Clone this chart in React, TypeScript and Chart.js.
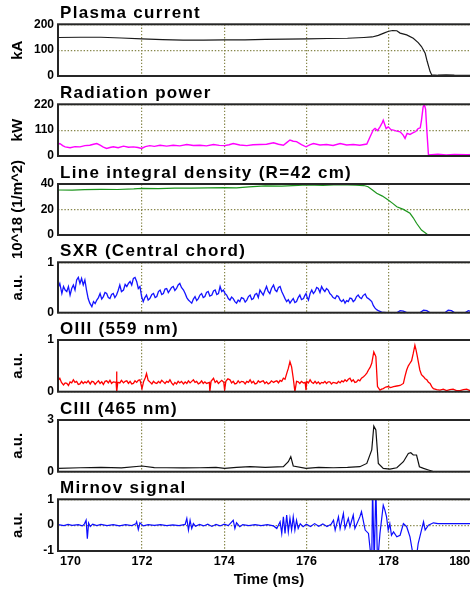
import React, { useEffect, useRef } from 'react';
import { Chart, registerables } from 'chart.js';

Chart.register(...registerables);
Chart.defaults.font.family = "'Liberation Sans', Arial, sans-serif";

type Pt = [number, number];

// ---- shared time axis (ms) ----
const TIME_MIN = 169.956;
const TIME_MAX = 180.224;
const timeTicks = [170, 172, 174, 176, 178, 180];

// ---- signals: [time (ms), value] ----
const plasmaCurrent: Pt[] = [
  [169.96, 149], [170.5, 150], [171.0, 150], [171.5, 147], [172.0, 144], [172.5, 141], [173.0, 139],
  [173.5, 139], [174.0, 140], [174.5, 140], [175.0, 142], [175.5, 143], [176.0, 144], [176.5, 145],
  [177.0, 146], [177.4, 149], [177.6, 151], [177.75, 157], [177.9, 167], [178.0, 173], [178.1, 176],
  [178.2, 175], [178.28, 166], [178.44, 159], [178.6, 146], [178.72, 129], [178.8, 114], [178.89, 88],
  [178.94, 56], [179.01, 17], [179.05, 4], [179.2, 3], [179.4, 4], [179.6, 3], [180.3, 2],
];

const radiationPower: Pt[] = [
  [169.96, 50], [170.0, 53], [170.07, 44], [170.13, 39], [170.25, 35], [170.37, 40], [170.49, 39],
  [170.61, 44], [170.73, 46], [170.82, 50], [170.9, 53], [170.98, 46], [171.06, 38], [171.14, 32],
  [171.22, 36], [171.3, 39], [171.42, 35], [171.55, 42], [171.67, 37], [171.79, 39], [171.9, 36],
  [171.99, 32], [172.08, 40], [172.19, 44], [172.3, 41], [172.44, 46], [172.6, 42], [172.76, 46],
  [172.92, 43], [173.09, 49], [173.25, 45], [173.41, 46], [173.57, 43], [173.74, 49], [173.88, 45],
  [174.01, 44], [174.12, 48], [174.22, 53], [174.38, 47], [174.55, 44], [174.7, 48], [174.87, 49],
  [175.03, 50], [175.2, 56], [175.32, 50], [175.44, 46], [175.52, 57], [175.6, 68], [175.68, 63],
  [175.76, 61], [175.88, 48], [175.99, 39], [176.08, 47], [176.17, 53], [176.33, 47], [176.49, 49],
  [176.65, 45], [176.82, 53], [176.98, 47], [177.14, 49], [177.3, 46], [177.47, 51], [177.55, 82],
  [177.63, 112], [177.67, 117], [177.73, 108], [177.79, 124], [177.84, 140], [177.87, 152],
  [177.94, 117], [177.99, 124], [178.06, 112], [178.12, 110], [178.2, 106], [178.28, 103],
  [178.35, 90], [178.4, 75], [178.45, 96], [178.52, 92], [178.6, 99], [178.66, 104], [178.72, 117],
  [178.77, 120], [178.8, 152], [178.84, 209], [178.87, 218], [178.9, 200], [178.93, 110],
  [178.97, 4], [179.2, 8], [179.4, 5], [179.6, 7], [179.9, 6], [180.3, 7],
];

const lineDensity: Pt[] = [
  [169.96, 35.3], [170.3, 35.2], [170.6, 35.6], [171.0, 35.8], [171.4, 35.7], [171.8, 36.2],
  [172.0, 36.6], [172.4, 36.4], [172.8, 36.8], [173.2, 36.7], [173.6, 37.0], [174.0, 37.1],
  [174.3, 36.9], [174.6, 37.8], [175.0, 38.6], [175.4, 38.4], [175.8, 38.9], [176.0, 39.2],
  [176.4, 39.0], [176.8, 39.4], [177.2, 39.1], [177.4, 38.8], [177.5, 37.9], [177.6, 35.5],
  [177.71, 32.7], [177.85, 30.5], [177.99, 27.5], [178.1, 24.8], [178.2, 22.2], [178.36, 20.1],
  [178.52, 17.0], [178.6, 13.5], [178.68, 9.2], [178.8, 3.9], [178.93, 0.8], [178.97, 0],
];

const sxrCentral: Pt[] = [
  [169.96, 0.5], [170.0, 0.58], [170.05, 0.38], [170.09, 0.52], [170.13, 0.45], [170.17, 0.42],
  [170.21, 0.52], [170.25, 0.35], [170.29, 0.48], [170.33, 0.55], [170.37, 0.45], [170.41, 0.65],
  [170.45, 0.7], [170.49, 0.58], [170.53, 0.68], [170.57, 0.55], [170.61, 0.65], [170.65, 0.45],
  [170.69, 0.28], [170.73, 0.19], [170.78, 0.12], [170.82, 0.22], [170.86, 0.18], [170.9, 0.25],
  [170.94, 0.3], [170.98, 0.38], [171.02, 0.27], [171.06, 0.32], [171.1, 0.4], [171.14, 0.38],
  [171.18, 0.3], [171.22, 0.28], [171.26, 0.36], [171.3, 0.38], [171.34, 0.3], [171.38, 0.35],
  [171.42, 0.44], [171.46, 0.55], [171.5, 0.42], [171.55, 0.45], [171.59, 0.56], [171.63, 0.52],
  [171.67, 0.58], [171.71, 0.62], [171.75, 0.55], [171.79, 0.68], [171.83, 0.7], [171.87, 0.62],
  [171.91, 0.48], [171.95, 0.52], [171.99, 0.32], [172.03, 0.22], [172.07, 0.3], [172.11, 0.35],
  [172.15, 0.25], [172.19, 0.28], [172.24, 0.36], [172.28, 0.38], [172.32, 0.3], [172.36, 0.32],
  [172.4, 0.42], [172.44, 0.45], [172.48, 0.36], [172.52, 0.38], [172.56, 0.47], [172.6, 0.48],
  [172.64, 0.4], [172.68, 0.45], [172.72, 0.5], [172.76, 0.52], [172.8, 0.44], [172.84, 0.48],
  [172.88, 0.55], [172.92, 0.58], [172.96, 0.5], [173.01, 0.45], [173.05, 0.38], [173.09, 0.3],
  [173.13, 0.25], [173.17, 0.22], [173.21, 0.19], [173.25, 0.27], [173.29, 0.32], [173.33, 0.24],
  [173.37, 0.28], [173.41, 0.35], [173.45, 0.38], [173.49, 0.3], [173.53, 0.32], [173.57, 0.4],
  [173.61, 0.42], [173.65, 0.33], [173.7, 0.35], [173.74, 0.43], [173.78, 0.45], [173.82, 0.36],
  [173.86, 0.38], [173.9, 0.52], [173.94, 0.42], [173.98, 0.45], [174.02, 0.38], [174.06, 0.35],
  [174.1, 0.28], [174.14, 0.25], [174.18, 0.31], [174.22, 0.28], [174.26, 0.22], [174.3, 0.19],
  [174.34, 0.25], [174.38, 0.22], [174.42, 0.3], [174.47, 0.28], [174.51, 0.21], [174.55, 0.25],
  [174.59, 0.32], [174.63, 0.35], [174.67, 0.26], [174.71, 0.28], [174.75, 0.36], [174.79, 0.38],
  [174.83, 0.3], [174.87, 0.45], [174.91, 0.4], [174.95, 0.35], [174.99, 0.44], [175.03, 0.52],
  [175.07, 0.42], [175.11, 0.38], [175.15, 0.48], [175.2, 0.55], [175.24, 0.45], [175.28, 0.42],
  [175.32, 0.5], [175.36, 0.52], [175.4, 0.42], [175.44, 0.35], [175.48, 0.28], [175.52, 0.22],
  [175.56, 0.26], [175.6, 0.19], [175.64, 0.24], [175.68, 0.28], [175.72, 0.2], [175.76, 0.22],
  [175.8, 0.3], [175.84, 0.35], [175.88, 0.26], [175.93, 0.28], [175.96, 0.34], [175.99, 0.38],
  [176.02, 0.3], [176.05, 0.25], [176.09, 0.38], [176.13, 0.45], [176.17, 0.38], [176.21, 0.42],
  [176.25, 0.5], [176.29, 0.48], [176.33, 0.4], [176.37, 0.52], [176.41, 0.46], [176.45, 0.42],
  [176.49, 0.48], [176.53, 0.45], [176.57, 0.38], [176.61, 0.35], [176.65, 0.3], [176.7, 0.28],
  [176.74, 0.34], [176.78, 0.32], [176.82, 0.25], [176.86, 0.22], [176.9, 0.26], [176.94, 0.19],
  [176.98, 0.24], [177.02, 0.22], [177.06, 0.29], [177.1, 0.28], [177.14, 0.22], [177.18, 0.25],
  [177.22, 0.32], [177.26, 0.35], [177.3, 0.3], [177.34, 0.28], [177.38, 0.34], [177.43, 0.37],
  [177.47, 0.3], [177.51, 0.28], [177.55, 0.25], [177.59, 0.22], [177.63, 0.14], [177.67, 0.09],
  [177.71, 0.06], [177.75, 0.04], [177.83, 0.01], [177.95, 0], [178.2, 0], [178.28, 0.04],
  [178.36, 0.03], [178.44, 0], [178.76, 0], [178.85, 0.05], [178.93, 0.04], [179.01, 0],
  [179.37, 0], [179.45, 0.05], [179.53, 0.04], [179.61, 0], [179.86, 0], [179.94, 0.04],
  [180.02, 0.02], [180.14, 0], [180.3, 0],
];

const oiiiLine: Pt[] = [
  [169.96, 0.22], [170.0, 0.26], [170.04, 0.18], [170.09, 0.13], [170.13, 0.17], [170.17, 0.16],
  [170.21, 0.12], [170.25, 0.19], [170.29, 0.17], [170.33, 0.23], [170.37, 0.18], [170.41, 0.2],
  [170.45, 0.14], [170.49, 0.15], [170.53, 0.2], [170.57, 0.16], [170.61, 0.19], [170.65, 0.17],
  [170.69, 0.21], [170.74, 0.15], [170.78, 0.2], [170.82, 0.19], [170.86, 0.14], [170.9, 0.18],
  [170.94, 0.21], [170.98, 0.16], [171.02, 0.19], [171.06, 0.14], [171.1, 0.2], [171.14, 0.21],
  [171.18, 0.17], [171.22, 0.22], [171.26, 0.16], [171.3, 0.19], [171.37, 0.18], [171.38, 0.39],
  [171.39, 0.0], [171.41, 0.18], [171.46, 0.17], [171.5, 0.22], [171.55, 0.17], [171.59, 0.2],
  [171.63, 0.21], [171.67, 0.16], [171.71, 0.2], [171.75, 0.15], [171.79, 0.16], [171.83, 0.21],
  [171.87, 0.18], [171.91, 0.22], [171.95, 0.23], [172.0, 0.06], [172.04, 0.2], [172.08, 0.27],
  [172.11, 0.35], [172.15, 0.22], [172.19, 0.19], [172.24, 0.15], [172.28, 0.2], [172.32, 0.17],
  [172.36, 0.16], [172.4, 0.2], [172.44, 0.17], [172.48, 0.22], [172.52, 0.19], [172.56, 0.16],
  [172.6, 0.2], [172.64, 0.18], [172.68, 0.23], [172.72, 0.17], [172.76, 0.13], [172.8, 0.18],
  [172.84, 0.15], [172.88, 0.2], [172.92, 0.17], [172.96, 0.2], [173.01, 0.15], [173.05, 0.19],
  [173.09, 0.16], [173.13, 0.21], [173.17, 0.17], [173.21, 0.2], [173.25, 0.23], [173.29, 0.18],
  [173.33, 0.2], [173.37, 0.15], [173.41, 0.17], [173.45, 0.21], [173.49, 0.16], [173.53, 0.19],
  [173.57, 0.16], [173.64, 0.18], [173.65, 0.0], [173.68, 0.2], [173.74, 0.26], [173.78, 0.18],
  [173.82, 0.21], [173.86, 0.16], [173.9, 0.19], [173.94, 0.22], [173.99, 0.18], [174.01, 0.03],
  [174.04, 0.2], [174.09, 0.25], [174.14, 0.23], [174.18, 0.17], [174.22, 0.2], [174.26, 0.15],
  [174.3, 0.16], [174.34, 0.21], [174.38, 0.17], [174.42, 0.2], [174.47, 0.19], [174.51, 0.15],
  [174.55, 0.2], [174.59, 0.18], [174.63, 0.23], [174.67, 0.17], [174.71, 0.2], [174.75, 0.15],
  [174.79, 0.16], [174.83, 0.21], [174.87, 0.18], [174.91, 0.2], [174.95, 0.21], [174.99, 0.16],
  [175.03, 0.19], [175.07, 0.15], [175.11, 0.17], [175.15, 0.21], [175.2, 0.18], [175.24, 0.2],
  [175.28, 0.21], [175.32, 0.17], [175.36, 0.22], [175.4, 0.2], [175.44, 0.26], [175.48, 0.24],
  [175.52, 0.35], [175.56, 0.45], [175.6, 0.58], [175.64, 0.48], [175.68, 0.26], [175.72, 0.0],
  [175.76, 0.2], [175.8, 0.19], [175.84, 0.16], [175.88, 0.2], [175.93, 0.17], [175.97, 0.18],
  [175.99, 0.03], [176.01, 0.2], [176.05, 0.17], [176.09, 0.23], [176.13, 0.18], [176.17, 0.16],
  [176.21, 0.2], [176.25, 0.16], [176.29, 0.19], [176.33, 0.15], [176.37, 0.18], [176.41, 0.17],
  [176.45, 0.2], [176.49, 0.16], [176.53, 0.19], [176.57, 0.19], [176.61, 0.15], [176.65, 0.18],
  [176.7, 0.17], [176.74, 0.16], [176.78, 0.2], [176.82, 0.17], [176.86, 0.21], [176.9, 0.19],
  [176.94, 0.23], [176.98, 0.2], [177.02, 0.24], [177.06, 0.26], [177.1, 0.2], [177.14, 0.23],
  [177.18, 0.18], [177.22, 0.19], [177.26, 0.23], [177.3, 0.21], [177.34, 0.26], [177.39, 0.29],
  [177.43, 0.32], [177.47, 0.36], [177.51, 0.42], [177.55, 0.47], [177.59, 0.55], [177.64, 0.77],
  [177.69, 0.68], [177.73, 0.1], [177.79, 0.03], [177.83, 0.05], [177.87, 0.06], [177.93, 0.09],
  [177.99, 0.1], [178.05, 0.08], [178.12, 0.1], [178.2, 0.11], [178.28, 0.12], [178.36, 0.16],
  [178.4, 0.3], [178.44, 0.42], [178.48, 0.5], [178.52, 0.55], [178.56, 0.6], [178.6, 0.74],
  [178.64, 0.9], [178.67, 0.8], [178.7, 0.68], [178.73, 0.55], [178.76, 0.42], [178.8, 0.33],
  [178.85, 0.29], [178.89, 0.25], [178.93, 0.23], [178.97, 0.18], [179.01, 0.16], [179.05, 0.1],
  [179.09, 0.06], [179.17, 0.04], [179.25, 0.03], [179.33, 0.05], [179.41, 0.02], [179.49, 0.04],
  [179.57, 0.05], [179.65, 0.02], [179.74, 0.02], [179.82, 0.04], [179.9, 0.05], [179.98, 0.02],
  [180.06, 0.03], [180.3, 0.03],
];

const ciiiLine: Pt[] = [
  [169.96, 0.19], [170.5, 0.23], [171.0, 0.25], [171.5, 0.22], [172.0, 0.33], [172.3, 0.24],
  [172.6, 0.23], [173.0, 0.22], [173.41, 0.23], [173.8, 0.25], [174.01, 0.19], [174.3, 0.25],
  [174.63, 0.29], [175.0, 0.25], [175.44, 0.29], [175.56, 0.58], [175.62, 0.87], [175.68, 0.33],
  [175.99, 0.19], [176.3, 0.25], [176.66, 0.23], [177.0, 0.25], [177.3, 0.29], [177.47, 0.48],
  [177.59, 1.26], [177.64, 2.65], [177.69, 2.42], [177.75, 0.48], [177.87, 0.19], [178.03, 0.15],
  [178.2, 0.23], [178.36, 0.58], [178.48, 1.06], [178.54, 1.1], [178.6, 0.97], [178.68, 0.97],
  [178.75, 0.29], [178.85, 0.19], [178.97, 0.1], [179.05, 0.04], [179.1, 0], [180.3, 0],
];

const mirnovSignal: Pt[] = [
  [169.96, 0.02], [170.1, -0.02], [170.2, 0.03], [170.3, -0.01], [170.45, 0.02], [170.55, -0.03],
  [170.6, 0.05], [170.64, 0.19], [170.67, -0.52], [170.7, 0.08], [170.74, -0.05], [170.8, 0.04],
  [170.9, -0.02], [171.0, 0.03], [171.15, -0.02], [171.3, 0.02], [171.45, -0.03], [171.6, 0.02],
  [171.75, -0.02], [171.85, 0.05], [171.87, 0.13], [171.91, -0.17], [171.95, 0.09], [172.03, -0.03],
  [172.15, 0.02], [172.3, -0.01], [172.45, 0.02], [172.6, -0.02], [172.75, 0.01], [172.9, -0.02],
  [173.05, 0.03], [173.09, 0.26], [173.13, -0.19], [173.17, 0.19], [173.21, -0.13], [173.25, 0.06],
  [173.3, -0.04], [173.4, 0.03], [173.5, -0.03], [173.6, 0.04], [173.7, -0.05], [173.8, 0.03],
  [173.9, -0.03], [174.0, 0.04], [174.1, -0.02], [174.22, 0.19], [174.26, -0.13], [174.3, 0.09],
  [174.38, -0.06], [174.45, 0.02], [174.6, -0.02], [174.75, 0.02], [174.9, -0.02], [175.05, 0.02],
  [175.2, -0.03], [175.28, -0.13], [175.36, 0.13], [175.4, -0.32], [175.44, 0.32], [175.48, -0.32],
  [175.52, 0.39], [175.56, -0.26], [175.6, 0.26], [175.64, -0.19], [175.68, 0.32], [175.72, -0.19],
  [175.76, 0.19], [175.8, -0.13], [175.85, 0.05], [175.92, -0.06], [176.0, 0.04], [176.1, -0.05],
  [176.2, 0.06], [176.3, -0.04], [176.4, 0.05], [176.5, -0.05], [176.6, 0.03], [176.66, 0.19],
  [176.7, -0.19], [176.78, 0.32], [176.82, -0.13], [176.9, 0.45], [176.94, -0.13], [177.02, 0.26],
  [177.06, -0.06], [177.14, 0.39], [177.18, -0.13], [177.3, 0.32], [177.34, 0.52], [177.43, -0.19],
  [177.51, -0.32], [177.59, -1.5], [177.61, 1.5], [177.65, -1.5], [177.69, 1.5], [177.73, -1.5],
  [177.79, -0.32], [177.87, 0.77], [177.91, 0.58], [177.95, 0.32], [177.99, -0.19], [178.03, 0.06],
  [178.07, -0.39], [178.12, -0.26], [178.2, -0.45], [178.28, -0.39], [178.36, 0.06], [178.44, -0.06],
  [178.52, -0.45], [178.6, -1.2], [178.68, -1.2], [178.72, -0.71], [178.8, -0.19], [178.85, 0.13],
  [178.89, -0.19], [178.97, 0], [179.09, 0.09], [179.2, 0.06], [180.3, 0.06],
];

// ---- panel layout and styling ----
const VIEW_W = 470;
const CANVAS_W = 480;
const CANVAS_H = 594;
const AXIS_W = 58;
const GRID_COLOR = 'rgb(135,135,75)';
const FRAME_COLOR = '#262626';

interface Panel {
  title: string;
  unit: string;
  data: Pt[];
  color: string;
  width: number;
  yMin: number;
  yMax: number;
  yTicks: number[];
  top: number;
  bottom: number;
}

const panels: Panel[] = [
  { title: 'Plasma current', unit: 'kA', data: plasmaCurrent, color: '#1a1a1a', width: 1.2, yMin: 0, yMax: 200, yTicks: [0, 100, 200], top: 24.3, bottom: 76 },
  { title: 'Radiation power', unit: 'kW', data: radiationPower, color: '#ff00ff', width: 1.4, yMin: 0, yMax: 220, yTicks: [0, 110, 220], top: 104.3, bottom: 156 },
  { title: 'Line integral density (R=42 cm)', unit: '10^18 (1/m^2)', data: lineDensity, color: '#1e961e', width: 1.2, yMin: 0, yMax: 40, yTicks: [0, 20, 40], top: 184, bottom: 235 },
  { title: 'SXR (Central chord)', unit: 'a.u.', data: sxrCentral, color: '#1414ff', width: 1.3, yMin: 0, yMax: 1, yTicks: [0, 1], top: 262.3, bottom: 312.7 },
  { title: 'OIII (559 nm)', unit: 'a.u.', data: oiiiLine, color: '#ff0000', width: 1.3, yMin: 0, yMax: 1, yTicks: [0, 1], top: 340, bottom: 391.7 },
  { title: 'CIII (465 nm)', unit: 'a.u.', data: ciiiLine, color: '#111111', width: 1.2, yMin: 0, yMax: 3, yTicks: [0, 3], top: 420, bottom: 471.7 },
  { title: 'Mirnov signal', unit: 'a.u.', data: mirnovSignal, color: '#0c0cff', width: 1.2, yMin: -1, yMax: 1, yTicks: [-1, 0, 1], top: 499.3, bottom: 551 },
];

// Frame, panel heading and (on the bottom panel) time labels.
const panelDeco = {
  id: 'panelDeco',
  afterDatasetsDraw(chart: any, _args: any, opts: any) {
    const { ctx, chartArea: a } = chart;
    ctx.save();
    ctx.strokeStyle = FRAME_COLOR;
    ctx.lineWidth = 2;
    ctx.strokeRect(a.left, a.top, a.right - a.left, a.bottom - a.top);

    ctx.fillStyle = '#000';
    ctx.font = "bold 17px 'Liberation Sans', Arial, sans-serif";
    ctx.letterSpacing = '1.3px';
    ctx.textAlign = 'left';
    ctx.textBaseline = 'alphabetic';
    ctx.fillText(opts.title, a.left + 2, a.top - 6);
    ctx.letterSpacing = '0px';

    if (opts.timeLabels) {
      const xs = chart.scales.x;
      ctx.font = "bold 12.5px 'Liberation Sans', Arial, sans-serif";
      for (const v of timeTicks) {
        const label = String(v);
        const w = ctx.measureText(label).width;
        let left = xs.getPixelForValue(v) - w / 2;
        left = Math.max(left, a.left + 2);
        left = Math.min(left, VIEW_W - w);
        ctx.fillText(label, left, a.bottom + 14);
      }
    }
    ctx.restore();
  },
};

function PanelChart({ panel, last }: { panel: Panel; last: boolean }) {
  const ref = useRef<HTMLCanvasElement | null>(null);

  useEffect(() => {
    if (!ref.current) return;
    const bottomSpace = CANVAS_H - panel.bottom;
    const chart = new Chart(ref.current, {
      type: 'line',
      data: {
        datasets: [
          {
            data: panel.data.map(([x, y]) => ({ x, y })),
            borderColor: panel.color,
            borderWidth: panel.width,
            pointRadius: 0,
            tension: 0,
            fill: false,
          },
        ],
      },
      options: {
        responsive: false,
        animation: false,
        events: [],
        layout: { padding: { top: panel.top, bottom: last ? 0 : bottomSpace, left: 0, right: 0 } },
        plugins: {
          legend: { display: false },
          tooltip: { enabled: false },
          title: { display: false },
          panelDeco: { title: panel.title, timeLabels: last },
        } as any,
        scales: {
          x: {
            type: 'linear',
            min: TIME_MIN,
            max: TIME_MAX,
            afterBuildTicks: (s: any) => {
              s.ticks = timeTicks.map((value) => ({ value }));
            },
            afterFit: (s: any) => {
              s.height = last ? bottomSpace : 0;
            },
            ticks: { display: false },
            grid: {
              color: (c: any) => (c.tick && c.tick.value === 170 ? 'rgba(0,0,0,0)' : GRID_COLOR),
              lineWidth: 1.2,
              drawTicks: false,
            },
            border: { display: false, dash: [1.4, 1.8] },
            title: {
              display: last,
              text: 'Time (ms)',
              color: '#000',
              font: { size: 15, weight: 'bold' },
              padding: { top: 0, bottom: 5 },
            },
          },
          y: {
            type: 'linear',
            min: panel.yMin,
            max: panel.yMax,
            afterBuildTicks: (s: any) => {
              s.ticks = panel.yTicks.map((value) => ({ value }));
            },
            afterFit: (s: any) => {
              s.width = AXIS_W;
            },
            ticks: { color: '#000', font: { size: 12, weight: 'bold' }, padding: 4 },
            grid: { color: GRID_COLOR, lineWidth: 1.2, drawTicks: false },
            border: { display: false, dash: [1.4, 1.8] },
            title: {
              display: true,
              text: panel.unit,
              color: '#000',
              font: { size: 15, weight: 'bold' },
              padding: { top: 8.5, bottom: 0 },
            },
          },
        },
      } as any,
      plugins: [panelDeco],
    });
    return () => chart.destroy();
  }, [panel, last]);

  return (
    <canvas
      ref={ref}
      width={CANVAS_W}
      height={CANVAS_H}
      style={{ position: 'absolute', left: 0, top: 0, width: CANVAS_W, height: CANVAS_H }}
    />
  );
}

export default function App() {
  return (
    <div
      style={{
        position: 'absolute',
        left: 0,
        top: 0,
        width: VIEW_W,
        height: CANVAS_H,
        overflow: 'hidden',
        background: '#fff',
      }}
    >
      {panels.map((p, i) => (
        <PanelChart key={p.title} panel={p} last={i === panels.length - 1} />
      ))}
    </div>
  );
}
